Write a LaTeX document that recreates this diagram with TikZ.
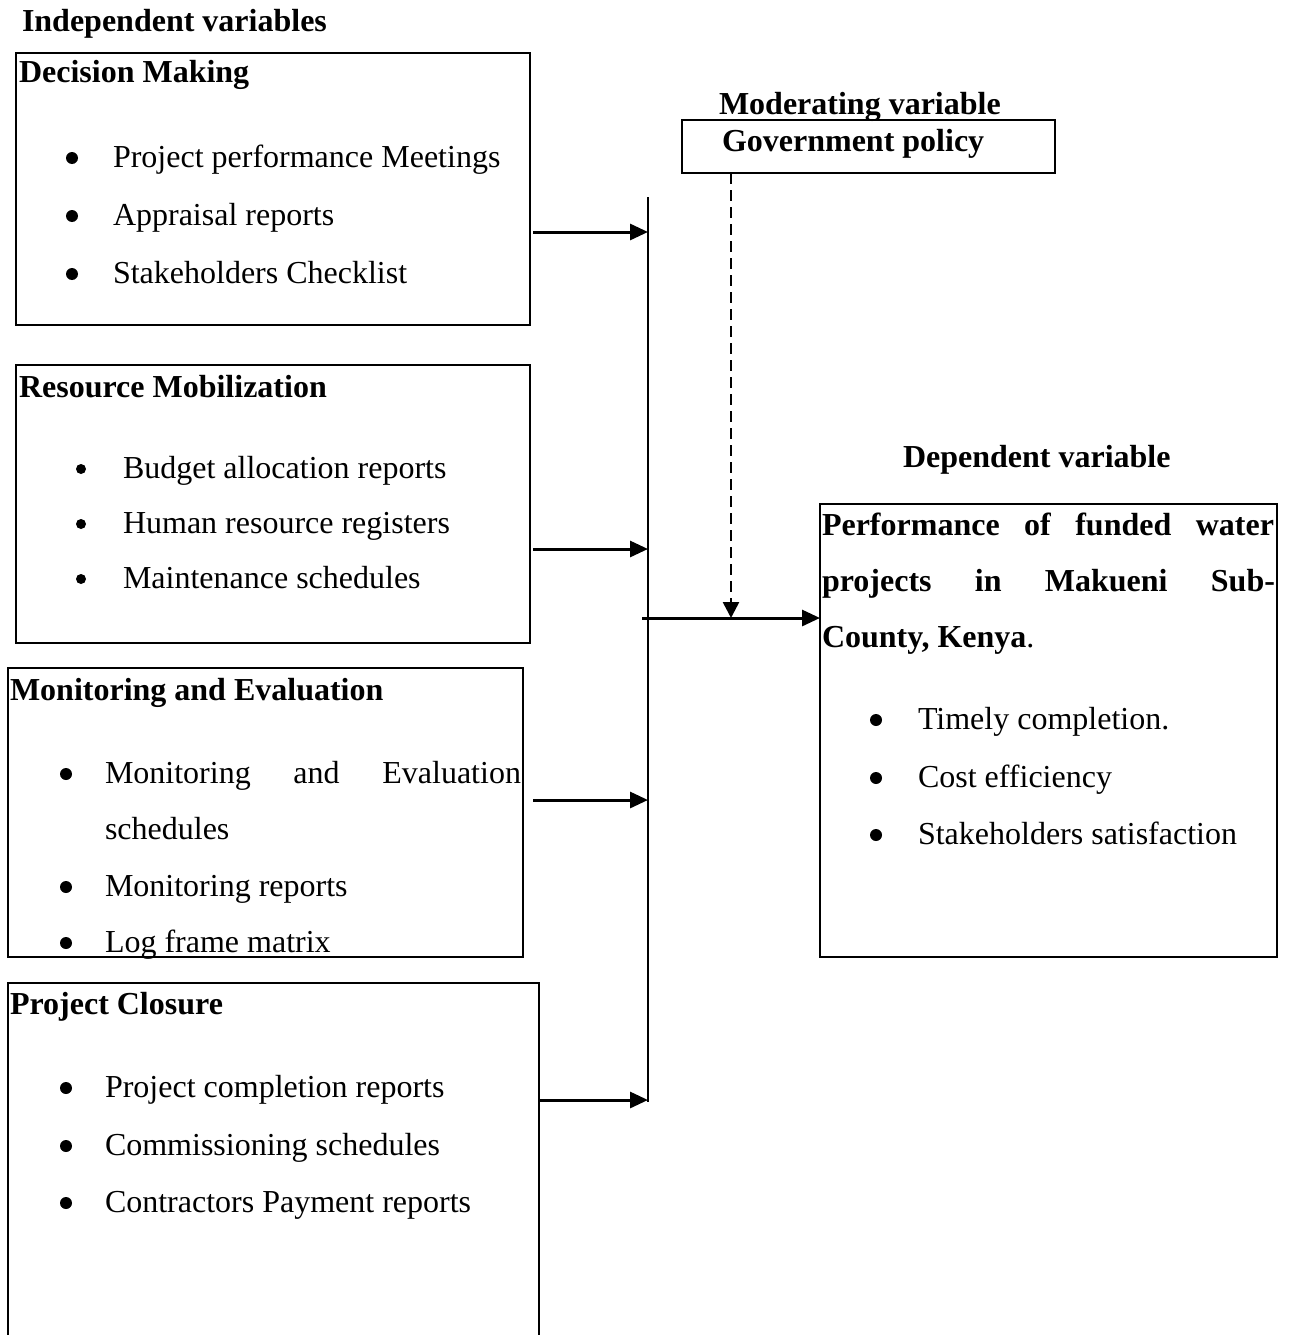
\documentclass[tikz,border=0pt]{standalone}
\usepackage{fontspec}
\setmainfont{Liberation Serif}
\usetikzlibrary{arrows.meta}
\tikzset{
  txt/.style={inner sep=0pt, outer sep=0pt, anchor=base west, font=\fontsize{32}{38}\selectfont},
  ttl/.style={inner sep=0pt, outer sep=0pt, anchor=base west, font=\fontsize{32}{38}\selectfont\bfseries},
  frame/.style={draw, line width=1.8pt, inner sep=0pt, outer sep=0pt, anchor=north west},
  openframe/.style={draw=none, inner sep=0pt, outer sep=0pt, anchor=north west},
  arr/.style={line width=3pt, -{Triangle[length=18pt,width=16pt]}},
  darr/.style={line width=2.6pt, dash pattern=on 11pt off 6pt, -{Triangle[length=16pt,width=16pt]}},
  bus/.style={line width=2.6pt},
  bul/.style={fill=black},
}
\begin{document}
\begin{tikzpicture}[x=1pt,y=-1pt]
\useasboundingbox (0,0) rectangle (1289,1335);

% ---- boxes
\node[frame, minimum width=514pt, minimum height=272pt] (dm) at (16,53) {};
\node[frame, minimum width=514pt, minimum height=278pt] (rm) at (16,365) {};
\node[frame, minimum width=515pt, minimum height=289pt] (me) at (8,668) {};
\node[openframe, minimum width=531pt, minimum height=360pt] (pc) at (8,983) {};
\draw[line width=1.8pt] (pc.south west) -- (pc.north west) -- (pc.north east) -- (pc.south east);
\node[frame, minimum width=373pt, minimum height=53pt] (gov) at (682,120) {};
\node[frame, minimum width=457pt, minimum height=453pt] (dep) at (820,504) {};

% ---- headings
\node[ttl] (indep) at (22,32) {Independent variables};
\node[ttl] (dmt) at (19,83) {Decision Making};
\node[ttl] (rmt) at (19,397) {Resource Mobilization};
\node[ttl] (met) at (10,700) {Monitoring and Evaluation};
\node[ttl] (pct) at (10,1014) {Project Closure};
\node[ttl] (modt) at (719,114) {Moderating variable};
\node[ttl] (govt) at (722,151) {Government policy};
\node[ttl] (dept) at (903,467) {Dependent variable};

% ---- Decision Making items
\fill[bul] (72,158) circle (6pt);
\fill[bul] (72,216) circle (6pt);
\fill[bul] (72,274) circle (6pt);
\node[txt] (dm1) at (113,167) {Project performance Meetings};
\node[txt] (dm2) at (113,225) {Appraisal reports};
\node[txt] (dm3) at (113,283) {Stakeholders Checklist};

% ---- Resource Mobilization items
\fill[bul] (81,469) circle (5pt);
\fill[bul] (81,524) circle (5pt);
\fill[bul] (81,579) circle (5pt);
\node[txt] (rm1) at (123,478) {Budget allocation reports};
\node[txt] (rm2) at (123,533) {Human resource registers};
\node[txt] (rm3) at (123,588) {Maintenance schedules};

% ---- Monitoring and Evaluation items
\fill[bul] (66,774) circle (6pt);
\fill[bul] (66,887) circle (6pt);
\fill[bul] (66,943) circle (6pt);
\node[txt] (me1) at (105,783) {\makebox[416pt][s]{Monitoring and Evaluation}};
\node[txt] (me2) at (105,839) {schedules};
\node[txt] (me3) at (105,896) {Monitoring reports};
\node[txt] (me4) at (105,952) {Log frame matrix};
\draw[line width=1.8pt] (me.south west) -- (me.south east);

% ---- Project Closure items
\fill[bul] (66,1088) circle (6pt);
\fill[bul] (66,1146) circle (6pt);
\fill[bul] (66,1203) circle (6pt);
\node[txt] (pc1) at (105,1097) {Project completion reports};
\node[txt] (pc2) at (105,1155) {Commissioning schedules};
\node[txt] (pc3) at (105,1212) {Contractors Payment reports};

% ---- Dependent variable text
\node[ttl] (dp1) at (822,535) {\makebox[452pt][s]{Performance of funded water}};
\node[ttl] (dp2) at (822,591) {\makebox[453pt][s]{projects in Makueni Sub-}};
\node[ttl] (dp3) at (822,647) {County, Kenya\mdseries.};
\fill[bul] (876,720) circle (6pt);
\fill[bul] (876,778) circle (6pt);
\fill[bul] (876,835) circle (6pt);
\node[txt] (dq1) at (918,729) {Timely completion.};
\node[txt] (dq2) at (918,787) {Cost efficiency};
\node[txt] (dq3) at (918,844) {Stakeholders satisfaction};

% ---- connectors
\coordinate (bt) at (648,197);
\coordinate (bb) at (648,1102);
\draw[bus] (bt) -- (bb);

\coordinate (s1) at (533,232);  \coordinate (e1) at (648,232);
\coordinate (s2) at (533,549);  \coordinate (e2) at (648,549);
\coordinate (s3) at (533,800);  \coordinate (e3) at (648,800);
\coordinate (s4) at (538,1100); \coordinate (e4) at (648,1100);
\draw[arr] (s1) -- (e1);
\draw[arr] (s2) -- (e2);
\draw[arr] (s3) -- (e3);
\draw[arr] (s4) -- (e4);

\coordinate (m0) at (642,618);
\draw[arr] (m0) -- (dep.west |- m0);

\coordinate (d0) at (731,173);
\coordinate (d1) at (731,618);
\draw[darr] (d0) -- (d1);
\end{tikzpicture}
\end{document}
